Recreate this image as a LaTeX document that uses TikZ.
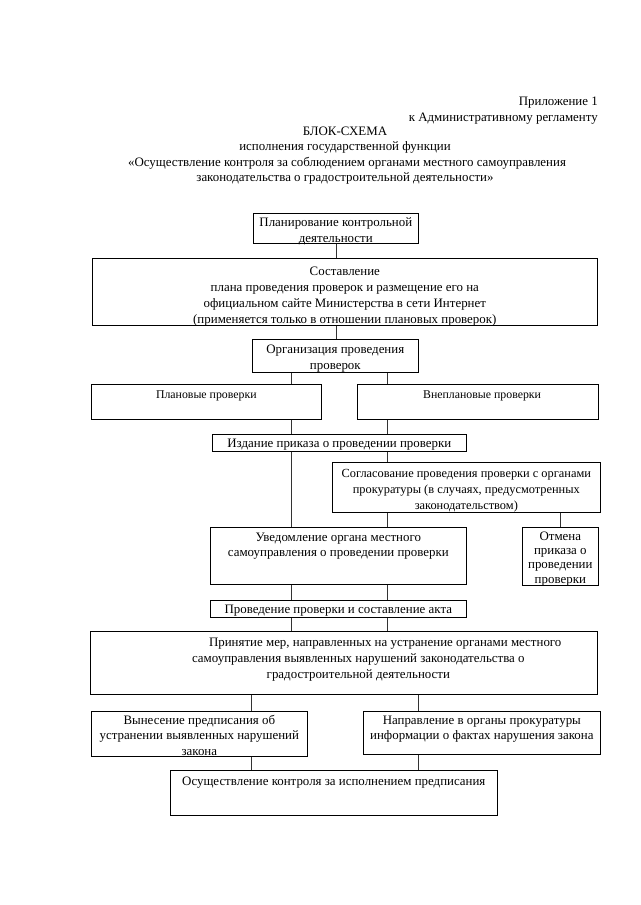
\documentclass[tikz,border=0pt]{standalone}
\usepackage{fontspec}
\setmainfont{Liberation Serif}
\newcommand{\bx}[8][12]{%
 \pgfmathsetmacro{\bxw}{(#5-#3)*0.9297}%
 \pgfmathsetmacro{\bxh}{(#6-#4)*0.9297}%
 \node[box] (#2) at (#3,#4) {\parbox[c][\bxh pt][t]{\bxw pt}{\centering\fontsize{#1}{14.9}\selectfont\vspace*{#7pt}\strut #8}};%
}
\begin{document}
\begin{tikzpicture}[x=0.9297pt,y=-0.9297pt,
  box/.style={draw=black, line width=0.6pt, inner sep=0pt, anchor=north west},
  conn/.style={draw=black!80, line width=0.6pt},
  txt/.style={inner sep=0pt, anchor=base, font=\fontsize{12}{14.6}\selectfont}]
\useasboundingbox[fill=white] (0,0) rectangle (640,905);
% header
\node[txt, anchor=base east] (app1) at (598,105) {Приложение 1};
\node[txt, anchor=base east] (app2) at (598,121) {к Административному регламенту};
\node[txt] (t1) at (345,135) {БЛОК-СХЕМА};
\node[txt] (t2) at (345,150) {исполнения государственной функции};
\node[txt] (t3) at (347,166) {«Осуществление контроля за соблюдением органами местного самоуправления};
\node[txt] (t4) at (345,181) {законодательства о градостроительной деятельности»};
% boxes
\bx{plan}{253}{213}{418}{243}{1.6}{Планирование контрольной\\деятельности}
\bx{sost}{92}{258}{597}{325}{5.4}{Составление\\плана проведения проверок и размещение его на\\официальном сайте Министерства в сети Интернет\\(применяется только в отношении плановых проверок)}
\bx{org}{252}{339}{418}{372}{2.6}{Организация проведения\\проверок}
\bx[11]{plch}{91}{384}{321}{419}{2.6}{Плановые проверки}
\bx[11]{vnch}{357}{384}{598}{419}{2.6}{\hspace*{8pt}Внеплановые проверки}
\bx{izd}{212}{434}{466}{451}{1.4}{Издание приказа о проведении проверки}
\bx[11.5]{sogl}{332}{462}{600}{512}{3.4}{Согласование проведения проверки с органами\\прокуратуры (в случаях, предусмотренных\\законодательством)}
\bx{uved}{210}{527}{466}{584}{2.6}{\fontsize{12}{14}\selectfont Уведомление органа местного\\самоуправления о проведении проверки}
\bx{otm}{522}{527}{598}{585}{1.4}{\fontsize{12}{13.4}\selectfont Отмена\\приказа о\\проведении\\проверки}
\bx{prov}{210}{600}{466}{617}{1.4}{Проведение проверки и составление акта}
\bx{prin}{90}{631}{597}{694}{3.4}{\hspace*{77pt}Принятие мер, направленных на устранение органами местного\\\hspace*{27pt}самоуправления выявленных нарушений законодательства о\\\hspace*{27pt}градостроительной деятельности}
\bx{vyn}{91}{711}{307}{756}{2.2}{\fontsize{12}{14}\selectfont Вынесение предписания об\\устранении выявленных нарушений\\закона}
\bx{napr}{363}{711}{600}{754}{2.2}{\fontsize{12}{14}\selectfont Направление в органы прокуратуры\\информации о фактах нарушения закона}
\bx{osu}{170}{770}{497}{815}{3.4}{Осуществление контроля за исполнением предписания}
% column guides
\coordinate (cA) at (291,0);
\coordinate (cB) at (387,0);
\coordinate (cC) at (560,0);
\coordinate (cD) at (251,0);
\coordinate (cE) at (418,0);
% connectors
\draw[conn] (plan.south) -- (plan.south |- sost.north);
\draw[conn] (org.north -| plan.south) -- (plan.south |- sost.south);
\draw[conn] (org.south -| cA) -- (plch.north -| cA);
\draw[conn] (org.south -| cB) -- (vnch.north -| cB);
\draw[conn] (plch.south -| cA) -- (izd.north -| cA);
\draw[conn] (vnch.south -| cB) -- (izd.north -| cB);
\draw[conn] (izd.south -| cA) -- (uved.north -| cA);
\draw[conn] (izd.south -| cB) -- (sogl.north -| cB);
\draw[conn] (sogl.south -| cB) -- (uved.north -| cB);
\draw[conn] (sogl.south -| cC) -- (otm.north -| cC);
\draw[conn] (uved.south -| cA) -- (prov.north -| cA);
\draw[conn] (uved.south -| cB) -- (prov.north -| cB);
\draw[conn] (prov.south -| cA) -- (prin.north -| cA);
\draw[conn] (prov.south -| cB) -- (prin.north -| cB);
\draw[conn] (prin.south -| cD) -- (vyn.north -| cD);
\draw[conn] (prin.south -| cE) -- (napr.north -| cE);
\draw[conn] (vyn.south -| cD) -- (osu.north -| cD);
\draw[conn] (napr.south -| cE) -- (osu.north -| cE);
\end{tikzpicture}
\end{document}
